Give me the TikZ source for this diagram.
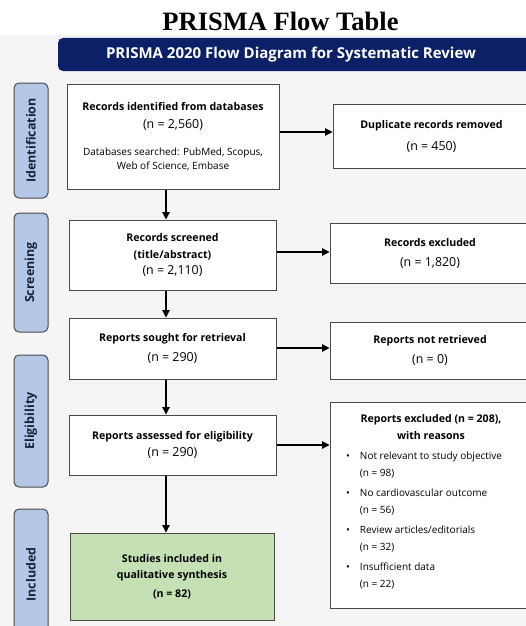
\documentclass[tikz,border=0pt]{standalone}
\usepackage{fontspec}
\setmainfont{Liberation Serif}
\newfontfamily\uifont{Open Sans}
\usetikzlibrary{arrows.meta}
\definecolor{bggray}{HTML}{F5F5F5}
\definecolor{navy}{HTML}{0C2068}
\definecolor{stagefill}{HTML}{B4C7E7}
\definecolor{stagetext}{HTML}{1A2238}
\definecolor{greenfill}{HTML}{C5E0B4}
\definecolor{boxline}{HTML}{4A4A4A}
\newcommand\pbold{\uifont\bfseries\fontsize{10.6}{13}\selectfont}
\newcommand\preg{\uifont\fontsize{12.4}{13}\selectfont}
\newcommand\psmall{\uifont\fontsize{10}{13}\selectfont}
\begin{document}
\begin{tikzpicture}[x=1pt,y=-1pt,
  box/.style={draw=boxline, line width=1pt, fill=white, align=center, inner sep=0pt},
  stage/.style={draw=boxline, line width=1pt, fill=stagefill, rounded corners=5pt, rotate=90,
     minimum height=34pt, inner sep=0pt, text=stagetext, font=\uifont\bfseries\fontsize{12.5}{14}\selectfont},
  arr/.style={line width=1.1pt, -{Triangle[length=7.5pt,width=7.5pt]}}]
\useasboundingbox (0,0) rectangle (526,626);
\fill[bggray] (0,35) rectangle (526,626);
% title
\node[font=\bfseries\fontsize{26.5}{30}\selectfont, anchor=base] (title) at (280.5,31) {PRISMA Flow Table};
% banner
\node[fill=navy, rounded corners=5pt, minimum width=478pt, minimum height=33pt, inner sep=0pt,
  text=white, font=\uifont\bfseries\fontsize{15}{17}\selectfont] (banner) at (297,54.5)
  {\hspace*{-12pt}PRISMA 2020 Flow Diagram for Systematic Review};
% stage labels
\node[stage, minimum width=115pt] (s1) at (31,140.5) {Identification};
\node[stage, minimum width=119pt] (s2) at (31,272.5) {Screening};
\node[stage, minimum width=132pt] (s3) at (31,421) {Eligibility};
\node[stage, minimum width=131pt] (s4) at (31,574.5) {Included};
% main boxes
\node[box, minimum width=212pt, minimum height=105pt] (b1) at (173,136.5)
  {\pbold Records identified from databases\\[6pt] \preg (n = 2,560)\\[15pt]
   \psmall Databases searched: PubMed, Scopus,\\[2pt] \psmall Web of Science, Embase};
\node[box, minimum width=207pt, minimum height=70pt] (b2) at (172.5,255)
  {\pbold Records screened\\[5pt] \pbold (title/abstract)\\[4pt] \preg (n = 2,110)};
\node[box, minimum width=207pt, minimum height=61pt] (b3) at (172.5,348.5)
  {\pbold Reports sought for retrieval\\[8pt] \preg (n = 290)};
\node[box, minimum width=207pt, minimum height=60pt] (b4) at (172.5,445)
  {\pbold Reports assessed for eligibility\\[5pt] \preg (n = 290)};
\node[box, fill=greenfill, minimum width=204pt, minimum height=87pt] (b5) at (172,576.5)
  {\pbold Studies included in\\[4pt] \pbold qualitative synthesis\\[7pt] \pbold (n = 82)};
% right boxes
\node[box, minimum width=197pt, minimum height=64pt] (r1) at (431.5,136)
  {\pbold Duplicate records removed\\[10pt] \preg (n = 450)};
\node[box, minimum width=200pt, minimum height=60pt] (r2) at (430,253)
  {\pbold Records excluded\\[8pt] \preg (n = 1,820)};
\node[box, minimum width=200pt, minimum height=57pt] (r3) at (430,350.5)
  {\pbold Reports not retrieved\\[8pt] \preg (n = 0)};
\node[box, minimum width=200pt, minimum height=206pt] (r4) at (430,505) {};
\node[anchor=north, align=center, inner sep=0pt] (r4h) at (431,414)
  {\pbold Reports excluded (n = 208),\\[5pt] \pbold with reasons};
\node[anchor=north west, inner sep=0pt, font=\psmall] (r4l) at (346,450)
  {\begin{tabular}{@{}l@{\hspace{10pt}}l@{}}
   \textbullet & Not relevant to study objective\\[4.5pt]
               & (n = 98)\\[6.5pt]
   \textbullet & No cardiovascular outcome\\[4.5pt]
               & (n = 56)\\[6.5pt]
   \textbullet & Review articles/editorials\\[4.5pt]
               & (n = 32)\\[6.5pt]
   \textbullet & Insufficient data\\[4.5pt]
               & (n = 22)
   \end{tabular}};
% vertical arrows
\draw[arr] (b1.south -| 166,0) -- (b2.north -| 166,0);
\draw[arr] (b2.south -| 166,0) -- (b3.north -| 166,0);
\draw[arr] (b3.south -| 166,0) -- (b4.north -| 166,0);
\draw[arr] (b4.south -| 166,0) -- (b5.north -| 166,0);
% horizontal arrows
\draw[arr] (b1.east |- 0,132) -- (r1.west |- 0,132);
\draw[arr] (b2.east |- 0,252) -- (r2.west |- 0,252);
\draw[arr] (b3.east |- 0,348) -- (r3.west |- 0,348);
\draw[arr] (b4.east |- 0,445) -- (r4.west |- 0,445);
\end{tikzpicture}
\end{document}
